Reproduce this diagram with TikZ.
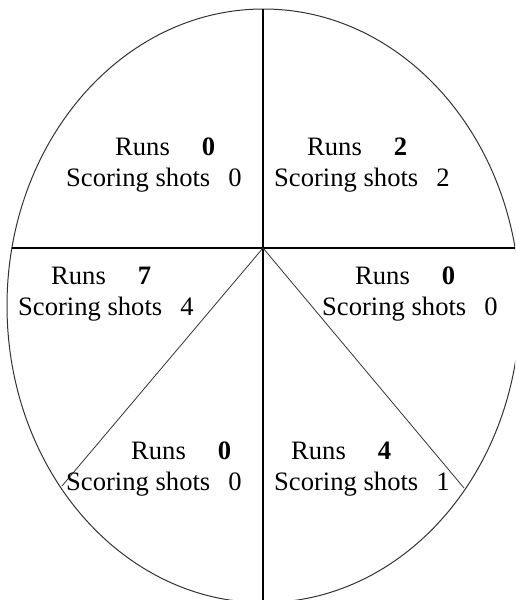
\documentclass[tikz,border=0pt]{standalone}
\usepackage{fontspec}
\setmainfont{Liberation Serif}
\begin{document}
\begin{tikzpicture}[x=1pt,y=-1pt,
  rim/.style={draw=black!80,line width=1pt},
  axis/.style={draw=black,line width=1.3pt},
  spoke/.style={draw=black!80,line width=0.8pt},
  lbl/.style={anchor=base west,inner sep=0pt,font=\fontsize{26.6}{32}\selectfont}]
\useasboundingbox (0,0) rectangle (515,600);
\clip (0,0) rectangle (515,600);
% outline
\draw[rim] (263.5,305.8) ellipse [x radius=256.5, y radius=296.8];
% named points
\coordinate (c) at (263,248);
\coordinate (top) at (263,9);
\coordinate (bot) at (263,600);
\coordinate (lft) at (12,248);
\coordinate (rgt) at (515,248);
\coordinate (dl) at (62,486);
\coordinate (dr) at (464,488);
% dividers
\draw[axis] (top) -- (bot);
\draw[axis] (lft) -- (rgt);
\draw[spoke] (c) -- (dl);
\draw[spoke] (c) -- (dr);
% labels
\node[lbl] (tl1) at (115,155) {Runs\hspace{32pt}\textbf{0}};
\node[lbl] (tl2) at (66,186) {Scoring shots\hspace{18pt}0};
\node[lbl] (tr1) at (307,155) {Runs\hspace{32pt}\textbf{2}};
\node[lbl] (tr2) at (274,186) {Scoring shots\hspace{18pt}2};
\node[lbl] (ml1) at (51,284) {Runs\hspace{32pt}\textbf{7}};
\node[lbl] (ml2) at (18,315) {Scoring shots\hspace{18pt}4};
\node[lbl] (mr1) at (355,284) {Runs\hspace{32pt}\textbf{0}};
\node[lbl] (mr2) at (322,315) {Scoring shots\hspace{18pt}0};
\node[lbl] (bl1) at (131,459) {Runs\hspace{32pt}\textbf{0}};
\node[lbl] (bl2) at (66,490) {Scoring shots\hspace{18pt}0};
\node[lbl] (br1) at (291,459) {Runs\hspace{32pt}\textbf{4}};
\node[lbl] (br2) at (274,490) {Scoring shots\hspace{18pt}1};
\end{tikzpicture}
\end{document}
